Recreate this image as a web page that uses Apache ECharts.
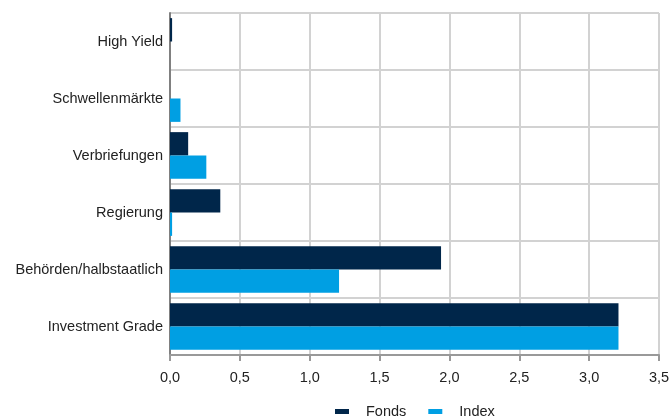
<!DOCTYPE html>
<html>
<head>
<meta charset="utf-8">
<script src="https://cdn.jsdelivr.net/npm/echarts@6/dist/echarts.min.js"></script>
<style>html,body{margin:0;padding:0;background:#fff;}#c{width:670px;height:418px;}</style>
</head>
<body>
<div id="c"></div>
<script>
var categories = ['High Yield', 'Schwellenmärkte', 'Verbriefungen', 'Regierung', 'Behörden/halbstaatlich', 'Investment Grade'];
var fonds = [0.015, 0, 0.13, 0.36, 1.94, 3.21];
var indexVals = [0, 0.075, 0.26, 0.015, 1.21, 3.21];
var seriesNames = ['Fonds', 'Index'];
var xMin = 0, xMax = 3.5, xStep = 0.5;

var chart = echarts.init(document.getElementById('c'), null, {renderer: 'canvas'});
var font = '"Liberation Sans", Arial, sans-serif';
var fs = 14.5;
chart.setOption({
  animation: false,
  backgroundColor: '#ffffff',
  textStyle: {fontFamily: font},
  grid: {left: 170, right: 11, top: 13, bottom: 63, containLabel: false, outerBoundsMode: 'none'},
  legend: {
    data: seriesNames,
    bottom: -1,
    left: 335,
    padding: 0,
    icon: 'rect',
    itemWidth: 14,
    itemHeight: 5,
    itemGap: 22,
    textStyle: {fontSize: fs, color: '#222', fontFamily: font, padding: [0, 0, 0, 12]}
  },
  xAxis: {
    type: 'value',
    min: xMin, max: xMax, interval: xStep,
    axisLine: {show: true, lineStyle: {color: '#999', width: 2}},
    axisTick: {show: true, length: 6, lineStyle: {color: '#999', width: 2}},
    axisLabel: {
      color: '#222', fontSize: fs, fontFamily: font, margin: 15,
      formatter: function (v) { return v.toFixed(1).replace('.', ','); }
    },
    splitLine: {show: true, lineStyle: {color: '#d2d2d2', width: 2}}
  },
  yAxis: {
    type: 'category',
    data: categories,
    inverse: true,
    axisLine: {show: true, lineStyle: {color: '#808080', width: 2}},
    axisTick: {show: false},
    axisLabel: {color: '#222', fontSize: fs, fontFamily: font, margin: 7, padding: [3, 0, 0, 0]},
    splitLine: {show: true, lineStyle: {color: '#d2d2d2', width: 2}}
  },
  series: [
    {name: seriesNames[0], type: 'bar', data: fonds, barGap: '0%', barCategoryGap: '18%',
     itemStyle: {color: '#00264a'}},
    {name: seriesNames[1], type: 'bar', data: indexVals, barGap: '0%', barCategoryGap: '18%',
     itemStyle: {color: '#009fe3'}}
  ]
});
</script>
</body>
</html>
